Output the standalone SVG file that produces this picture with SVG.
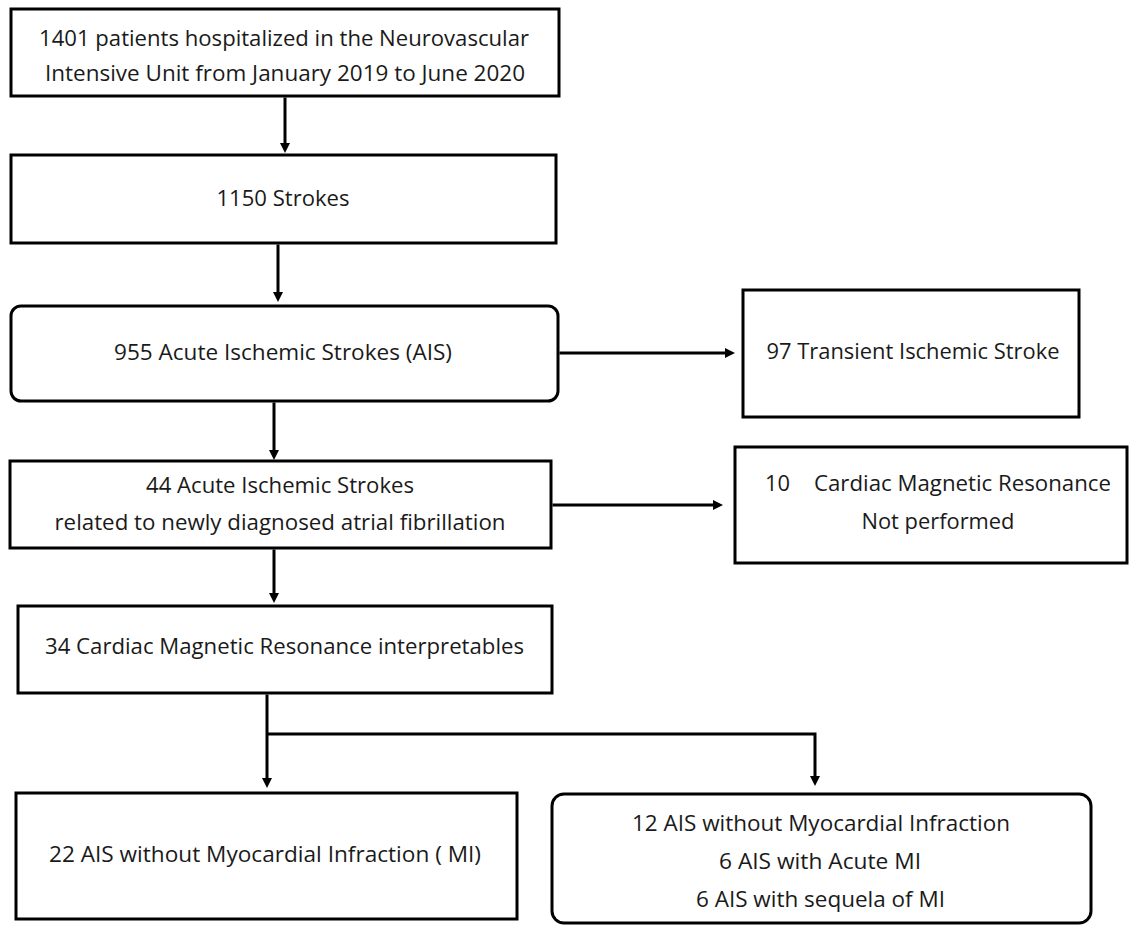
<svg xmlns="http://www.w3.org/2000/svg" width="1131" height="927" viewBox="0 0 1131 927">
<style>
.box{fill:#fff;stroke:#000;stroke-width:3}
.t{font-family:"Open Sans","Liberation Sans",sans-serif;font-size:22px;fill:#1a1a1a;text-anchor:middle}
.ts{font-family:"Open Sans","Liberation Sans",sans-serif;font-size:22px;fill:#1a1a1a}
.c{fill:none;stroke:#000;stroke-width:3}
</style>
<defs>
<marker id="ah" markerUnits="userSpaceOnUse" markerWidth="11" markerHeight="11" refX="2" refY="5" orient="auto">
<path d="M0,0 L10,5 L0,10 Z" fill="#000"/>
</marker>
</defs>
<rect width="1131" height="927" fill="#fff"/>
<g id="connectors">
<path class="c" d="M285,97.5 V145" marker-end="url(#ah)"/>
<path class="c" d="M278,244.5 V294" marker-end="url(#ah)"/>
<path class="c" d="M274,402.5 V452" marker-end="url(#ah)"/>
<path class="c" d="M274,549.5 V595" marker-end="url(#ah)"/>
<path class="c" d="M559.5,353 H727" marker-end="url(#ah)"/>
<path class="c" d="M552.5,505 H715" marker-end="url(#ah)"/>
<path class="c" d="M267,694.5 V780" marker-end="url(#ah)"/>
<path class="c" d="M267,734 H815 V778" marker-end="url(#ah)"/>
</g>
<g id="n1">
<rect class="box" x="11" y="9" width="548" height="87"/>
<text class="t" x="284" y="46" textLength="490" lengthAdjust="spacingAndGlyphs">1401 patients hospitalized in the Neurovascular</text>
<text class="t" x="285" y="81" textLength="480" lengthAdjust="spacingAndGlyphs">Intensive Unit from January 2019 to June 2020</text>
</g>
<g id="n2">
<rect class="box" x="11" y="155" width="545" height="88"/>
<text class="t" x="283" y="206" textLength="133" lengthAdjust="spacingAndGlyphs">1150 Strokes</text>
</g>
<g id="n3">
<rect class="box" x="11" y="306" width="547" height="95" rx="10"/>
<text class="t" x="283" y="360" textLength="338" lengthAdjust="spacingAndGlyphs">955 Acute Ischemic Strokes (AIS)</text>
</g>
<g id="n4">
<rect class="box" x="743" y="290" width="336" height="127"/>
<text class="t" x="913" y="359" textLength="293" lengthAdjust="spacingAndGlyphs">97 Transient Ischemic Stroke</text>
</g>
<g id="n5">
<rect class="box" x="10" y="461" width="541" height="87"/>
<text class="t" x="280" y="493" textLength="268" lengthAdjust="spacingAndGlyphs">44 Acute Ischemic Strokes</text>
<text class="t" x="280" y="530" textLength="451" lengthAdjust="spacingAndGlyphs">related to newly diagnosed atrial fibrillation</text>
</g>
<g id="n6">
<rect class="box" x="735" y="447" width="392" height="116"/>
<text class="ts" y="491"><tspan x="765" textLength="25" lengthAdjust="spacingAndGlyphs">10</tspan><tspan x="814" textLength="297" lengthAdjust="spacingAndGlyphs">Cardiac Magnetic Resonance</tspan></text>
<text class="t" x="938" y="529" textLength="153" lengthAdjust="spacingAndGlyphs">Not performed</text>
</g>
<g id="n7">
<rect class="box" x="18" y="606" width="534" height="87"/>
<text class="t" x="284.5" y="654" textLength="479" lengthAdjust="spacingAndGlyphs">34 Cardiac Magnetic Resonance interpretables</text>
</g>
<g id="n8">
<rect class="box" x="16" y="793" width="501" height="126"/>
<text class="t" x="265" y="862" textLength="432" lengthAdjust="spacingAndGlyphs">22 AIS without Myocardial Infraction ( MI)</text>
</g>
<g id="n9">
<rect class="box" x="552" y="794" width="539" height="129" rx="12"/>
<text class="t" x="821" y="831" textLength="378" lengthAdjust="spacingAndGlyphs">12 AIS without Myocardial Infraction</text>
<text class="t" x="820" y="869" textLength="202" lengthAdjust="spacingAndGlyphs">6 AIS with Acute MI</text>
<text class="t" x="820.5" y="907" textLength="249" lengthAdjust="spacingAndGlyphs">6 AIS with sequela of MI</text>
</g>
</svg>
